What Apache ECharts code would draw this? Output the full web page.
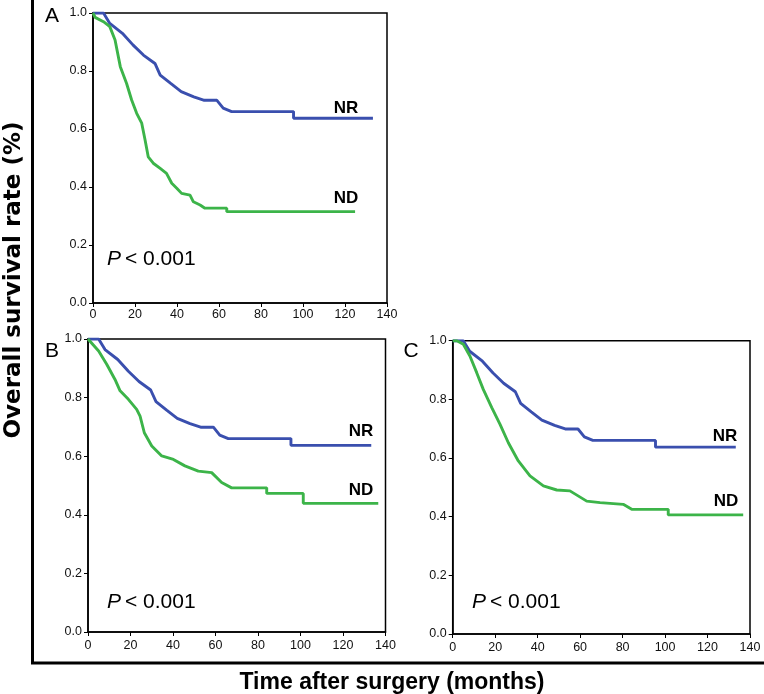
<!DOCTYPE html>
<html>
<head>
<meta charset="utf-8">
<script src="https://cdn.jsdelivr.net/npm/echarts@6/dist/echarts.min.js"></script>
<style>
html,body{margin:0;padding:0;background:#fff;}
#chart{width:764px;height:694px;}
</style>
</head>
<body>
<div id="chart"></div>
<script>
// ---- data ----
const xTicks = [0, 20, 40, 60, 80, 100, 120, 140];
const yTicks = [0, 0.2, 0.4, 0.6, 0.8, 1.0];

// NR group (same in panels A, B, C)
const nrTime = [0, 5, 8, 14, 19, 24, 29.5, 32, 37, 42, 48, 53, 59, 62, 66, 95.5, 95.5, 133.3];
const nrSurv = [1, 1, 0.964, 0.930, 0.890, 0.855, 0.826, 0.786, 0.757, 0.729, 0.711, 0.699, 0.699, 0.672, 0.660, 0.660, 0.637, 0.637];

// ND group, panel A
const ndTimeA = [0, 1, 5, 8, 10.5, 13, 16, 18.4, 20.8, 23.2, 24.8, 26.3, 28.7, 32, 35, 37.5, 40, 42.2, 46.2, 47.8, 51, 53.3, 63.7, 63.7, 124.8];
const ndSurvA = [1, 0.985, 0.970, 0.953, 0.907, 0.815, 0.757, 0.700, 0.654, 0.620, 0.562, 0.504, 0.482, 0.464, 0.447, 0.413, 0.395, 0.378, 0.372, 0.349, 0.338, 0.327, 0.327, 0.315, 0.315];

// ND group, panel B
const ndTimeB = [0, 5, 8.8, 12.7, 15.1, 19, 22.9, 24.5, 26.5, 30, 34.7, 40.2, 45.6, 51.9, 58.2, 62.9, 67.6, 84.1, 84.1, 101.3, 101.3, 136.6];
const ndSurvB = [1, 0.959, 0.914, 0.862, 0.823, 0.794, 0.760, 0.737, 0.680, 0.635, 0.601, 0.589, 0.567, 0.549, 0.544, 0.510, 0.492, 0.492, 0.473, 0.473, 0.439, 0.439];

// ND group, panel C
const ndTimeC = [0, 2, 5, 8.1, 11.3, 14.4, 18.4, 22.3, 26.2, 30.9, 36.4, 42.7, 49, 55.2, 63.1, 69.4, 80.3, 84.3, 101.5, 101.5, 136.8];
const ndSurvC = [1, 1, 0.988, 0.948, 0.891, 0.834, 0.772, 0.715, 0.652, 0.590, 0.539, 0.505, 0.491, 0.488, 0.453, 0.448, 0.442, 0.425, 0.425, 0.406, 0.406];

const panelLetters = ['A', 'B', 'C'];
const groupNames = ['NR', 'ND'];
const pText = '< 0.001';

// ---- build ----
const BLUE = '#3a4fae';
const GREEN = '#3cb449';
const FONT = '"Liberation Sans", Arial, sans-serif';

function pairs(t, s) { return t.map((v, i) => [v, s[i]]); }

const grids = [
  {left: 93, top: 13, width: 294, height: 290},
  {left: 88, top: 339, width: 297.5, height: 293},
  {left: 452.7, top: 340.7, width: 297.3, height: 293.3}
];
const xMargins = [5, 7, 7];

const ndSets = [[ndTimeA, ndSurvA], [ndTimeB, ndSurvB], [ndTimeC, ndSurvC]];

const option = {
  backgroundColor: '#fff',
  animation: false,
  grid: grids.map(g => Object.assign({show: true, borderColor: '#000', borderWidth: 1.5, backgroundColor: 'transparent'}, g)),
  xAxis: grids.map((g, i) => ({
    type: 'value', gridIndex: i, min: xTicks[0], max: xTicks[xTicks.length - 1], interval: 20,
    axisLine: {show: true, onZero: false, lineStyle: {color: '#000', width: 1.5}},
    axisTick: {show: true, length: 4, lineStyle: {color: '#000', width: 1}},
    axisLabel: {color: '#111', fontSize: 12.5, fontFamily: FONT, margin: xMargins[i], showMinLabel: true, showMaxLabel: true},
    splitLine: {show: false}
  })),
  yAxis: grids.map((g, i) => ({
    type: 'value', gridIndex: i, min: yTicks[0], max: yTicks[yTicks.length - 1], interval: 0.2,
    axisLine: {show: true, onZero: false, lineStyle: {color: '#000', width: 1.5}},
    axisTick: {show: true, length: 4, lineStyle: {color: '#000', width: 1}},
    axisLabel: {color: '#111', fontSize: 12.5, fontFamily: FONT, margin: 6, formatter: v => v.toFixed(1)},
    splitLine: {show: false}
  })),
  series: [],
  graphic: []
};

grids.forEach((g, i) => {
  option.series.push({
    name: groupNames[0], type: 'line', xAxisIndex: i, yAxisIndex: i,
    data: pairs(nrTime, nrSurv), showSymbol: false, symbol: 'none',
    lineStyle: {color: BLUE, width: 2.9}, z: 3
  });
  option.series.push({
    name: groupNames[1], type: 'line', xAxisIndex: i, yAxisIndex: i,
    data: pairs(ndSets[i][0], ndSets[i][1]), showSymbol: false, symbol: 'none',
    lineStyle: {color: GREEN, width: 2.9}, z: 3
  });
});

// frame lines of the whole figure
option.graphic.push({type: 'line', shape: {x1: 32.5, y1: 0, x2: 32.5, y2: 664}, style: {stroke: '#000', lineWidth: 3}});
option.graphic.push({type: 'line', shape: {x1: 31, y1: 663, x2: 764, y2: 663}, style: {stroke: '#000', lineWidth: 3}});

// axis titles
option.graphic.push({type: 'text', x: 14, y: 280, rotation: Math.PI / 2,
  style: {text: 'Overall survival rate (%)', font: 'bold 23px "DejaVu Sans", sans-serif', fill: '#000', textAlign: 'center', textVerticalAlign: 'middle'}});
option.graphic.push({type: 'text', x: 392, y: 683,
  style: {text: 'Time after surgery (months)', font: 'bold 23px "Liberation Sans", Arial, sans-serif', fill: '#000', textAlign: 'center', textVerticalAlign: 'middle'}});

// panel letters
const letterPos = [[52, 16], [52, 351], [411, 351]];
letterPos.forEach((p, i) => option.graphic.push({type: 'text', x: p[0], y: p[1],
  style: {text: panelLetters[i], font: '21px "Liberation Sans", Arial, sans-serif', fill: '#000', textAlign: 'center', textVerticalAlign: 'middle'}}));

// group labels
const nrPos = [[346, 108], [361, 431], [725, 436]];
const ndPos = [[346, 198], [361, 490], [726, 501]];
nrPos.forEach(p => option.graphic.push({type: 'text', x: p[0], y: p[1],
  style: {text: groupNames[0], font: 'bold 17px "Liberation Sans", Arial, sans-serif', fill: '#000', textAlign: 'center', textVerticalAlign: 'middle'}}));
ndPos.forEach(p => option.graphic.push({type: 'text', x: p[0], y: p[1],
  style: {text: groupNames[1], font: 'bold 17px "Liberation Sans", Arial, sans-serif', fill: '#000', textAlign: 'center', textVerticalAlign: 'middle'}}));

// P values
const pPos = [[107, 259], [107, 602], [472, 602]];
pPos.forEach(p => {
  option.graphic.push({type: 'text', x: p[0], y: p[1],
    style: {text: 'P', font: 'italic 21px "Liberation Sans", Arial, sans-serif', fill: '#000', textAlign: 'left', textVerticalAlign: 'middle'}});
  option.graphic.push({type: 'text', x: p[0] + 18, y: p[1],
    style: {text: pText, font: '21px "Liberation Sans", Arial, sans-serif', fill: '#000', textAlign: 'left', textVerticalAlign: 'middle'}});
});

const chart = echarts.init(document.getElementById('chart'), null, {renderer: 'canvas'});
chart.setOption(option);
</script>
</body>
</html>
